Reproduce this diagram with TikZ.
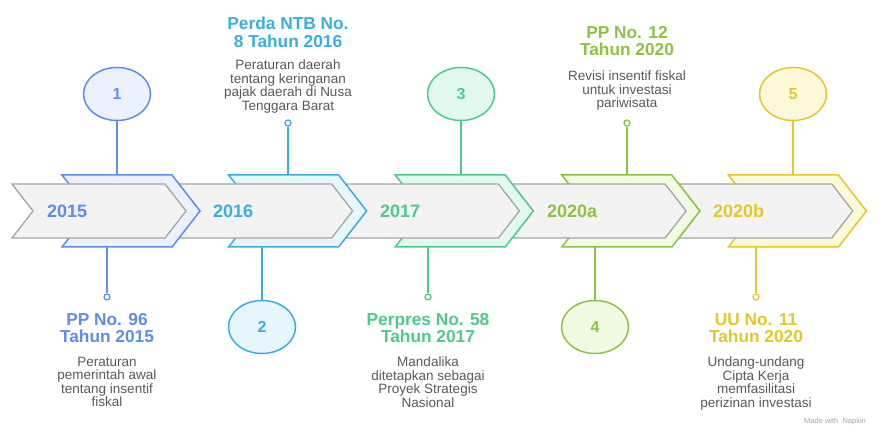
\documentclass[tikz,border=0pt]{standalone}
\usepackage{fontspec}
\setmainfont{Liberation Sans}
\usetikzlibrary{shapes.geometric}
\definecolor{cA}{HTML}{5C8EEA}\definecolor{lA}{HTML}{EBF2FE}
\definecolor{cB}{HTML}{3AAFDF}\definecolor{lB}{HTML}{E7F6FD}
\definecolor{cC}{HTML}{4DCB8C}\definecolor{lC}{HTML}{E2FAEE}
\definecolor{cD}{HTML}{8EC244}\definecolor{lD}{HTML}{F1FBE2}
\definecolor{cE}{HTML}{E3C82C}\definecolor{lE}{HTML}{FEF8DA}
\definecolor{bandfill}{HTML}{F3F3F3}\definecolor{bandline}{HTML}{A5A5A5}
\definecolor{desc}{HTML}{595959}
\tikzset{
  bandseg/.style={fill=bandfill,draw=bandline,line width=1.3pt,line join=miter},
  numcirc/.style={ellipse,minimum width=67pt,minimum height=53pt,inner sep=0pt,line width=1.5pt,font=\bfseries\fontsize{16}{18}\selectfont},
  dotend/.style={circle,minimum size=6pt,inner sep=0pt,fill=white,line width=1.3pt},
  stem/.style={line width=1.5pt},
  title/.style={anchor=north,align=center,inner sep=0pt,font=\bfseries\fontsize{17.3}{17.5}\selectfont},
  descr/.style={anchor=north,align=center,inner sep=0pt,text=desc,font=\fontsize{13.5}{13.4}\selectfont},
  year/.style={anchor=west,inner sep=0pt,font=\bfseries\fontsize{18}{20}\selectfont}
}
\begin{document}
\begin{tikzpicture}[x=1pt,y=-1pt]
\useasboundingbox[fill=white] (0,0) rectangle (896,427);
% anchor coordinates on the chevrons
\coordinate (t1) at (117,175); \coordinate (b1) at (107,247);
\coordinate (t2) at (288,175); \coordinate (b2) at (262,247);
\coordinate (t3) at (461,175); \coordinate (b3) at (428,247);
\coordinate (t4) at (627,175); \coordinate (b4) at (595,247);
\coordinate (t5) at (793,175); \coordinate (b5) at (756,247);
% circles and end dots (positions)
\coordinate (p1) at (117,94); \coordinate (p2) at (262,327);
\coordinate (p3) at (461,94); \coordinate (p4) at (595,327);
\coordinate (p5) at (793,94);
% stems drawn first, then circles on top
\node[numcirc,draw=cA,fill=lA,text=cA] (c1) at (p1) {1};
\node[numcirc,draw=cB,fill=lB,text=cB] (c2) at (p2) {2};
\node[numcirc,draw=cC,fill=lC,text=cC] (c3) at (p3) {3};
\node[numcirc,draw=cD,fill=lD,text=cD] (c4) at (p4) {4};
\node[numcirc,draw=cE,fill=lE,text=cE] (c5) at (p5) {5};
\node[dotend,draw=cA] (d1) at (107,297) {};
\node[dotend,draw=cB] (d2) at (288,123) {};
\node[dotend,draw=cC] (d3) at (428,297) {};
\node[dotend,draw=cD] (d4) at (627,123) {};
\node[dotend,draw=cE] (d5) at (756,297) {};
\draw[stem,cA] (c1) -- (t1); \draw[stem,cA] (b1) -- (d1);
\draw[stem,cB] (d2) -- (t2); \draw[stem,cB] (b2) -- (c2);
\draw[stem,cC] (c3) -- (t3); \draw[stem,cC] (b3) -- (d3);
\draw[stem,cD] (d4) -- (t4); \draw[stem,cD] (b4) -- (c4);
\draw[stem,cE] (c5) -- (t5); \draw[stem,cE] (b5) -- (d5);
% chevrons, right to left
\foreach \i/\c/\l in {4/cE/lE,3/cD/lD,2/cC/lC,1/cB/lB,0/cA/lA} {
  \pgfmathsetmacro\L{62+166.6*\i}
  \pgfmathsetmacro\G{12+166.7*\i}
  \draw[draw=\c,fill=\l,line width=1.5pt,line join=miter]
    (\L,175) -- (\L+110,175) -- (\L+138,211) -- (\L+110,247) -- (\L,247) -- (\L+28,211) -- cycle;
  \draw[bandseg]
    (\G,184) -- (\G+153,184) -- (\G+174,211) -- (\G+153,238) -- (\G,238) -- (\G+21,211) -- cycle;
}
% year labels
\node[year,text=cA] (y1) at (47,211) {2015};
\node[year,text=cB] (y2) at (213,211) {2016};
\node[year,text=cC] (y3) at (380,211) {2017};
\node[year,text=cD] (y4) at (547,211) {2020a};
\node[year,text=cE] (y5) at (713,211) {2020b};
% texts
\node[title,text=cB] (h2) at (288,17) {Perda NTB No.\\8 Tahun 2016};
\node[descr] (e2) at (288,60) {Peraturan daerah\\tentang keringanan\\pajak daerah di Nusa\\Tenggara Barat};
\node[title,text=cD] (h4) at (627,26) {PP No. 12\\Tahun 2020};
\node[descr] (e4) at (627,71) {Revisi insentif fiskal\\untuk investasi\\pariwisata};
\node[title,text=cA] (h1) at (107,313) {PP No. 96\\Tahun 2015};
\node[descr] (e1) at (107,357) {Peraturan\\pemerintah awal\\tentang insentif\\fiskal};
\node[title,text=cC] (h3) at (428,313) {Perpres No. 58\\Tahun 2017};
\node[descr] (e3) at (428,357) {Mandalika\\ditetapkan sebagai\\Proyek Strategis\\Nasional};
\node[title,text=cE] (h5) at (756,313) {UU No. 11\\Tahun 2020};
\node[descr] (e5) at (756,357) {Undang-undang\\Cipta Kerja\\memfasilitasi\\perizinan investasi};
\node[anchor=west,inner sep=0pt,text=black!35,font=\fontsize{7.5}{8}\selectfont] (wm) at (804,422) {Made with \ Napkin};
\end{tikzpicture}
\end{document}
